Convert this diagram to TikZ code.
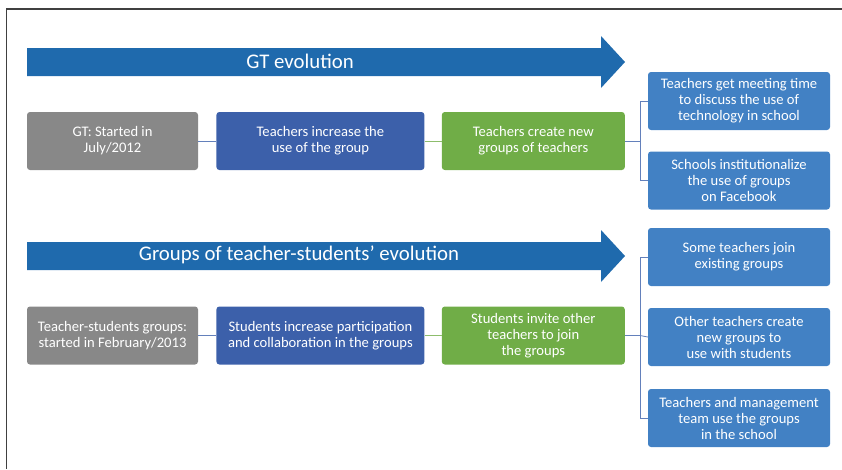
\documentclass[tikz,border=0pt]{standalone}
\usepackage{fontspec}
\setmainfont{Carlito}
\usetikzlibrary{positioning}

\definecolor{bandblue}{RGB}{31,106,173}
\definecolor{boxgray}{RGB}{136,136,136}
\definecolor{boxblue}{RGB}{60,96,170}
\definecolor{boxgreen}{RGB}{112,173,71}
\definecolor{resultblue}{RGB}{66,129,196}
\definecolor{framegray}{RGB}{64,64,64}

\begin{document}
\begin{tikzpicture}[
    x=1pt, y=-1pt,
    box/.style={rectangle, rounded corners=3pt, minimum height=58pt, inner sep=2pt, align=center, text=white, font=\fontsize{14.6}{16}\selectfont},
    startbox/.style={box, fill=boxgray, minimum width=171pt},
    growbox/.style={box, fill=boxblue, minimum width=208pt},
    spreadbox/.style={box, fill=boxgreen, minimum width=183pt},
    resultbox/.style={box, fill=resultblue, minimum width=182pt},
    link/.style={draw=boxblue!80, line width=0.8pt},
    greenlink/.style={draw=boxgreen!80, line width=0.8pt},
    title/.style={text=white, font=\fontsize{20.8}{24}\selectfont},
    node distance=18pt
    ]

    \useasboundingbox (0,0) rectangle (842,469);

    % Frame
    \draw[framegray, line width=1.2pt] (842,9) -- (6.5,9) -- (6.5,469);

    % Evolution arrows
    \fill[bandblue] (27,48) -- (601,48) -- (601,36) -- (625,62) -- (601,88) -- (601,76) -- (27,76) -- cycle;
    \node[title] (gttitle) at (300,61) {GT evolution};
    \fill[bandblue] (27,242) -- (601,242) -- (601,230) -- (625,256) -- (601,282) -- (601,270) -- (27,270) -- cycle;
    \node[title] (tstitle) at (299,255) {Groups of teacher-students’ evolution};

    % First row: GT
    \node[startbox] (gtstart) at (112.5,141) {GT: Started in\\July/2012};
    \node[growbox, right=of gtstart] (gtgrow) {Teachers increase the\\use of the group};
    \node[spreadbox, right=17pt of gtgrow] (gtspread) {Teachers create new\\groups of teachers};
    \node[resultbox] (gtmeet) at (739,101) {Teachers get meeting time\\to discuss the use of\\technology in school};
    \node[resultbox] (gtinst) at (739,180.5) {Schools institutionalize\\the use of groups\\on Facebook};

    % Second row: teacher-students
    \node[startbox] (tsstart) at (112.5,335.5) {Teacher-students groups:\\started in February/2013};
    \node[growbox, right=of tsstart] (tsgrow) {Students increase participation\\and collaboration in the groups};
    \node[spreadbox, right=17pt of tsgrow] (tsspread) {Students invite other\\teachers to join\\the groups};
    \node[resultbox] (tsjoin) at (739,257) {Some teachers join\\existing groups};
    \node[resultbox] (tscreate) at (739,337) {Other teachers create\\new groups to\\use with students};
    \node[resultbox] (tsschool) at (739,418) {Teachers and management\\team use the groups\\in the school};

    % Connect the boxes
    \draw[link] (gtstart) -- (gtgrow);
    \draw[greenlink] (gtgrow) -- (gtspread);
    \draw[link] (gtspread.east) -- ++(15,0) coordinate (gtfork);
    \draw[link] (gtmeet.west) -| (gtfork) |- (gtinst.west);

    \draw[link] (tsstart) -- (tsgrow);
    \draw[greenlink] (tsgrow) -- (tsspread);
    \draw[link] (tsspread.east) -- ++(15,0) coordinate (tsfork);
    \draw[link] (tsjoin.west) -| (tsfork) |- (tsschool.west);
    \draw[link] (tsfork) -- (tscreate.west);

\end{tikzpicture}
\end{document}
